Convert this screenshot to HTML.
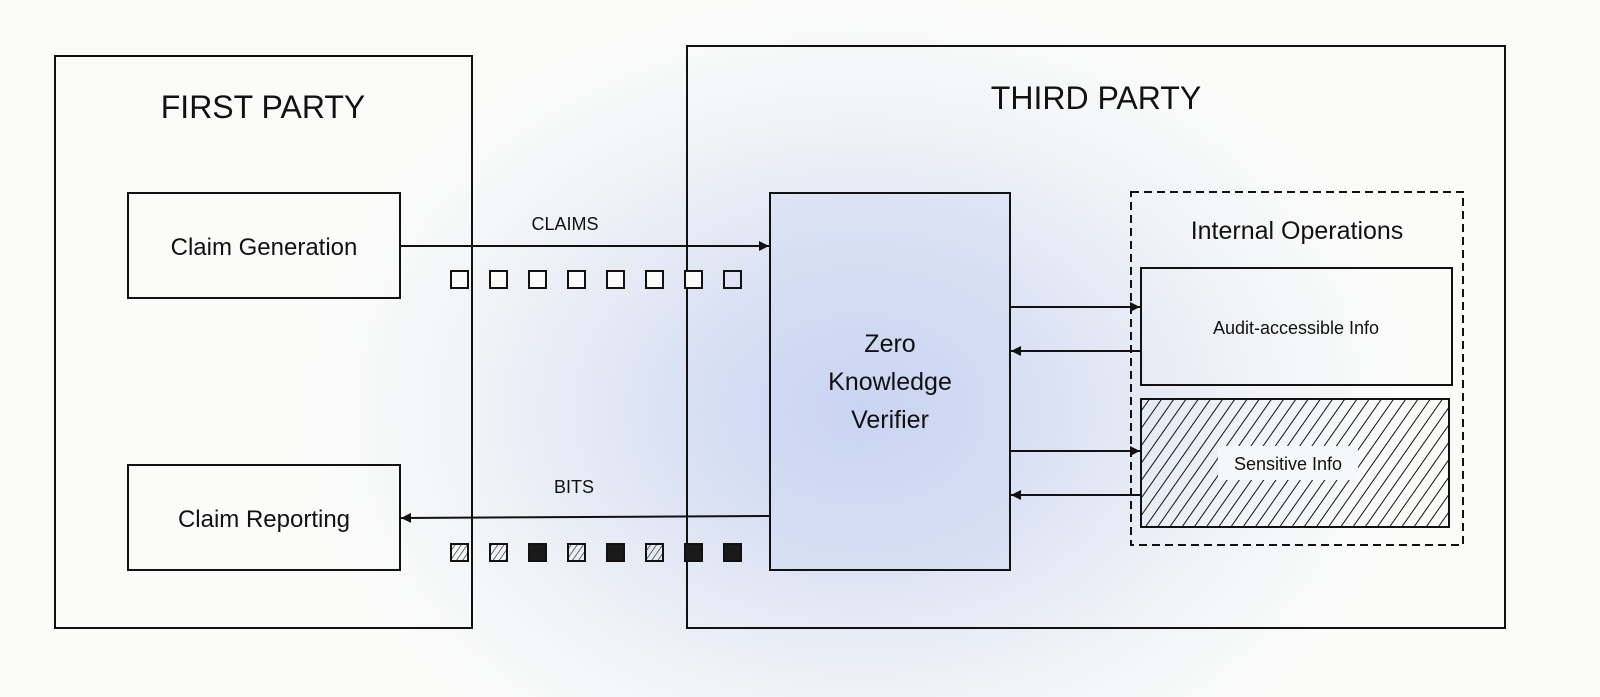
<!DOCTYPE html>
<html><head><meta charset="utf-8"><style>
html,body{margin:0;padding:0;background:#fbfcfa;}
svg{display:block;font-family:"Liberation Sans",sans-serif;}
</style></head><body>
<svg width="1600" height="697" viewBox="0 0 1600 697" xmlns="http://www.w3.org/2000/svg">
<defs>
<radialGradient id="glow" cx="860" cy="410" r="560" gradientUnits="userSpaceOnUse" gradientTransform="translate(860 410) scale(1 0.75) translate(-860 -410)">
<stop offset="0" stop-color="#c8d3f2"/>
<stop offset="0.35" stop-color="#dbe2f4"/>
<stop offset="0.7" stop-color="#f1f3f6"/>
<stop offset="1" stop-color="#fbfcfa"/>
</radialGradient>
<pattern id="hatch" width="10" height="10" patternUnits="userSpaceOnUse" patternTransform="rotate(35)">
<line x1="0" y1="0" x2="0" y2="10" stroke="#111" stroke-width="2"/>
</pattern>
<pattern id="hatchs" width="5" height="5" patternUnits="userSpaceOnUse" patternTransform="rotate(35)">
<line x1="0" y1="0" x2="0" y2="5" stroke="#111" stroke-width="1.2"/>
</pattern>
<marker id="ah" markerWidth="10" markerHeight="10" refX="10" refY="5" orient="auto" markerUnits="userSpaceOnUse">
<path d="M0,0 L10,5 L0,10 z" fill="#111"/>
</marker>
</defs>
<rect width="1600" height="697" fill="url(#glow)"/>
<g fill="none" stroke="#111" stroke-width="2">
<rect x="55" y="56" width="417" height="572"/>
<rect x="687" y="46" width="818" height="582"/>
<rect x="128" y="193" width="272" height="105"/>
<rect x="128" y="465" width="272" height="105"/>
<rect x="770" y="193" width="240" height="377" fill="#ccd6f1" fill-opacity="0.35"/>
<rect x="1131" y="192" width="332" height="353" stroke-dasharray="8,5"/>
<rect x="1141" y="268" width="311" height="117"/>
<rect x="1141" y="399" width="308" height="128" fill="url(#hatch)"/>
</g>
<rect x="1218" y="446" width="140" height="34" fill="#f6f7f8"/>
<g stroke="#111" stroke-width="2" fill="none">
<line x1="400" y1="246" x2="769" y2="246" marker-end="url(#ah)"/>
<line x1="770" y1="516" x2="401" y2="518" marker-end="url(#ah)"/>
<line x1="1010" y1="307" x2="1140" y2="307" marker-end="url(#ah)"/>
<line x1="1141" y1="351" x2="1011" y2="351" marker-end="url(#ah)"/>
<line x1="1010" y1="451" x2="1140" y2="451" marker-end="url(#ah)"/>
<line x1="1141" y1="495" x2="1011" y2="495" marker-end="url(#ah)"/>
</g>
<g fill="#fbfcfa" stroke="#111" stroke-width="2">
<rect x="451" y="271" width="17" height="17"/><rect x="490" y="271" width="17" height="17"/>
<rect x="529" y="271" width="17" height="17"/><rect x="568" y="271" width="17" height="17"/>
<rect x="607" y="271" width="17" height="17"/><rect x="646" y="271" width="17" height="17"/>
<rect x="685" y="271" width="17" height="17"/><rect x="724" y="271" width="17" height="17" fill="none"/>
</g>
<g stroke="#111" stroke-width="2">
<rect x="451" y="544" width="17" height="17" fill="url(#hatchs)"/>
<rect x="490" y="544" width="17" height="17" fill="url(#hatchs)"/>
<rect x="529" y="544" width="17" height="17" fill="#1a1a1a"/>
<rect x="568" y="544" width="17" height="17" fill="url(#hatchs)"/>
<rect x="607" y="544" width="17" height="17" fill="#1a1a1a"/>
<rect x="646" y="544" width="17" height="17" fill="url(#hatchs)"/>
<rect x="685" y="544" width="17" height="17" fill="#1a1a1a"/>
<rect x="724" y="544" width="17" height="17" fill="#1a1a1a"/>
</g>
<g fill="#111" text-anchor="middle">
<text x="263" y="118" font-size="32">FIRST PARTY</text>
<text x="1096" y="109" font-size="32">THIRD PARTY</text>
<text x="264" y="255" font-size="24">Claim Generation</text>
<text x="264" y="527" font-size="24">Claim Reporting</text>
<text x="565" y="230" font-size="18">CLAIMS</text>
<text x="574" y="493" font-size="18">BITS</text>
<text x="890" y="352" font-size="25">Zero</text>
<text x="890" y="390" font-size="25">Knowledge</text>
<text x="890" y="428" font-size="25">Verifier</text>
<text x="1297" y="239" font-size="25">Internal Operations</text>
<text x="1296" y="334" font-size="18">Audit-accessible Info</text>
<text x="1288" y="470" font-size="18">Sensitive Info</text>
</g>
</svg>
</body></html>
